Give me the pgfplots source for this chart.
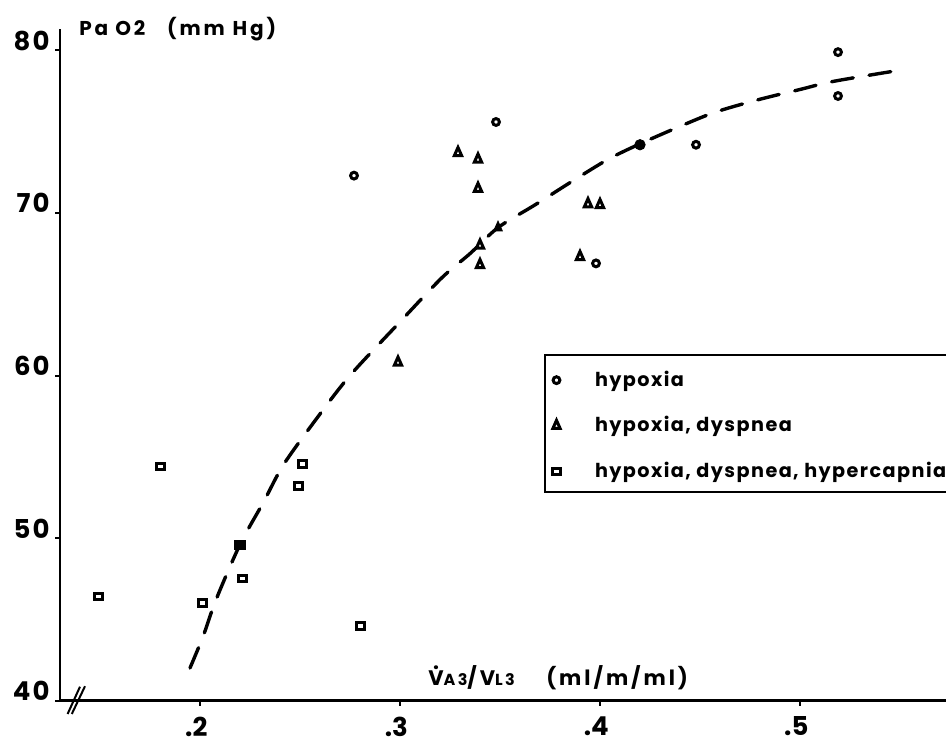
\documentclass[border=0pt]{standalone}
\usepackage{fontspec}
\setmainfont{Poppins}
\newfontfamily\lett{Poppins}[LetterSpace=8]
\newfontfamily\legf{Poppins}[LetterSpace=7.5]
\newfontfamily\wide{Poppins}[LetterSpace=14]
\usepackage{pgfplots}
\pgfplotsset{compat=1.18}

\begin{document}
\begin{tikzpicture}
\begin{axis}[
  x=1000pt, y=8.125pt,
  xmin=0.13, xmax=0.6, ymin=40, ymax=81.3,
  axis x line=bottom, axis y line=left,
  axis line style={line width=1.4pt, -},
  xtick={0.2,0.3,0.4,0.5},
  xticklabels={{\llap{.}2},{\llap{.}3},{\llap{.}4},{\llap{.}5}},
  ytick={40,50,60,70,80},
  yticklabels={40,50,60,70,80},
  tick align=outside,
  major tick length=2.5pt,
  tick style={line width=1pt, black},
  ticklabel style={font=\lett\bfseries\fontsize{13}{13}\selectfont},
  yticklabel style={anchor=base east, inner sep=0pt, xshift=-2.5pt},
  xticklabel style={anchor=north, inner sep=0pt, yshift=-5.5pt},
  clip=false,
  legend style={at={(0.5149,0.5162)}, anchor=north west, draw=black,
    line width=1pt, inner xsep=2pt, inner ysep=0pt, row sep=0pt,
    font=\legf\bfseries\fontsize{9.6}{11}\selectfont,
    cells={anchor=west}},
  legend cell align=left,
  legend image code/.code={\path (0pt,-9.5pt) (19.5pt,11.8pt); \draw[#1] plot coordinates {(3pt,0pt)};},
]
% dashed curve drawn by hand in the original
\addplot[forget plot, black, smooth, line width=1.7pt, line cap=round,
  dash pattern=on 11pt off 8pt] coordinates {
  (0.195,42.0) (0.2017,44.0) (0.208,46.2) (0.22,49.6) (0.2317,52.2)
  (0.2417,54.5) (0.258,57.3) (0.275,60.0) (0.30,63.3) (0.3208,66.0)
  (0.335,67.5) (0.349,69.1) (0.3675,70.5) (0.3867,72.0) (0.404,73.3)
  (0.419,74.2) (0.4375,75.2) (0.4575,76.2) (0.48,77.0) (0.50,77.6)
  (0.5167,78.1) (0.5505,78.8)
};

\addplot[black, only marks, mark=o, mark size=1.7pt, line width=1.5pt] coordinates {
  (0.277,72.3) (0.348,75.6) (0.398,66.9) (0.448,74.2) (0.519,79.9) (0.519,77.2)
};
\addlegendentry{hypoxia}

\addplot[black, only marks, mark=triangle, mark size=2.1pt, line width=1.5pt,
  mark options={yscale=1.3}] coordinates {
  (0.299,60.8) (0.329,73.7) (0.339,73.3) (0.339,71.5) (0.34,68.0)
  (0.34,66.8) (0.39,67.3) (0.394,70.55) (0.40,70.5)
};
\addlegendentry{hypoxia, dyspnea}

\addplot[black, only marks, mark=square, mark size=2pt, line width=1.5pt,
  mark options={yscale=0.82, rounded corners=0.8pt}] coordinates {
  (0.149,46.4) (0.18,54.4) (0.201,46.0) (0.221,47.5) (0.249,53.2)
  (0.251,54.55) (0.28,44.6)
};
\addlegendentry{hypoxia, dyspnea, hypercapnia}

% points lying on the curve are filled in
\addplot[forget plot, black, only marks, mark=*, mark size=2.6pt] coordinates {(0.42,74.2)};
\addplot[forget plot, black, only marks, mark=triangle*, mark size=2.5pt,
  mark options={yscale=1.3}] coordinates {(0.349,69.1)};
\addplot[forget plot, black, only marks, mark=square*, mark size=2.7pt,
  mark options={yscale=0.85, rounded corners=0.8pt}] coordinates {(0.22,49.6)};

\node[anchor=base west, inner sep=0pt, font=\wide\bfseries\fontsize{10}{12}\selectfont]
  at (axis cs:0.1395,80.95) {Pa\hspace{0.35em}O2\hspace{1.1em}(mm\hspace{0.4em}Hg)};
\node[anchor=base west, inner sep=0pt, font=\wide\bfseries\fontsize{10.5}{12}\selectfont]
  at (axis cs:0.314,40.9)
  {\ooalign{V\cr\hidewidth\raisebox{0.8em}{.}\hidewidth\cr}{\fontsize{8}{9}\selectfont A3}/V{\fontsize{8}{9}\selectfont L3}\hspace{1.5em}(ml/m/ml)};

% axis break
\draw[line width=1pt] (axis cs:0.1338,39.17) -- (axis cs:0.14,40.85);
\draw[line width=1pt] (axis cs:0.1359,39.17) -- (axis cs:0.1425,40.88);

\coordinate (bbl) at (axis cs:0.1,37.815);
\coordinate (btr) at (axis cs:0.573,83.108);
\end{axis}
\pgfresetboundingbox
\path[use as bounding box] (bbl) rectangle (btr);
\end{tikzpicture}
\end{document}
